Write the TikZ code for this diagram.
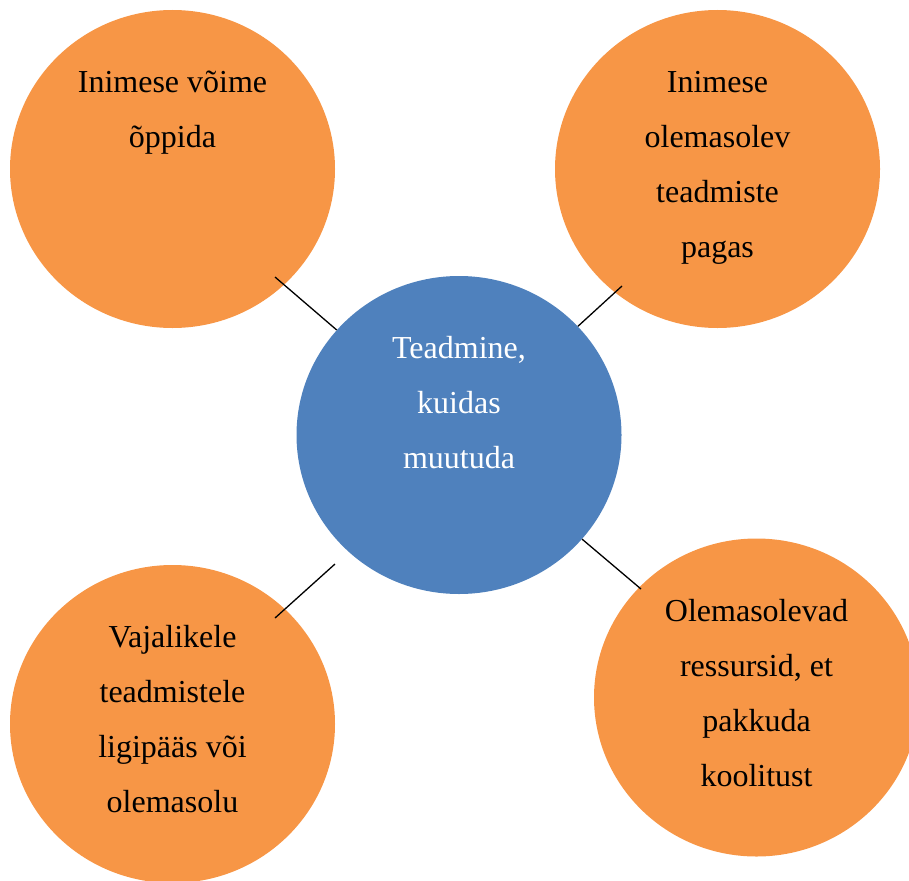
\documentclass[tikz,border=0pt]{standalone}
\usepackage{fontspec}
\setmainfont{Liberation Serif}
\usetikzlibrary{shapes.geometric}
\usetikzlibrary{positioning}

\definecolor{bubbleorange}{HTML}{F79646}
\definecolor{hubblue}{HTML}{4F81BD}

\begin{document}
\begin{tikzpicture}[x=1pt, y=-1pt,
        bubble/.style={ellipse, fill=bubbleorange, minimum width=325pt, minimum height=318pt, inner sep=0pt},
        hubbubble/.style={bubble, fill=hubblue},
        txt/.style={anchor=base, align=center, inner sep=0pt, font=\fontsize{32}{55}\selectfont}]
    \useasboundingbox (0, 0) rectangle (909, 880);
    \node[bubble] (tl) at (172.5, 169) {};
    \node[bubble] (tr) at (717.5, 169) {};
    \node[bubble] (bl) at (172.5, 724) {};
    \node[bubble] (br) at (756.5, 697.5) {};
    \node[hubbubble] (hub) at (459, 435) {};

    % connectors, from the hub outwards (the lower left one stops short of the hub)
    \coordinate (tl-end) at (275, 277);
    \coordinate (tr-end) at (622, 286);
    \coordinate (bl-start) at (335, 564);
    \coordinate (bl-end) at (275, 618);
    \coordinate (br-end) at (641, 589);
    \foreach \a/\b in {hub/tl-end, hub/tr-end, bl-start/bl-end, hub/br-end}
    {
        \draw[line width=1.3pt] (\a) -- (\b);
    }

    % texts (base = baseline of the last line)
    \node[txt] (tl-text) at ([yshift=-138pt]tl.north) {Inimese võime\\õppida};
    \node[txt] (tr-text) at ([yshift=-248pt]tr.north) {Inimese\\olemasolev\\teadmiste\\pagas};
    \node[txt, text=white] (hub-text) at ([yshift=-193pt]hub.north) {Teadmine,\\kuidas\\muutuda};
    \node[txt] (bl-text) at ([yshift=-248pt]bl.north) {Vajalikele\\teadmistele\\ligipääs või\\olemasolu};
    \node[txt] (br-text) at ([yshift=-248pt]br.north) {Olemasolevad\\ressursid, et\\pakkuda\\koolitust};
\end{tikzpicture}
\end{document}
